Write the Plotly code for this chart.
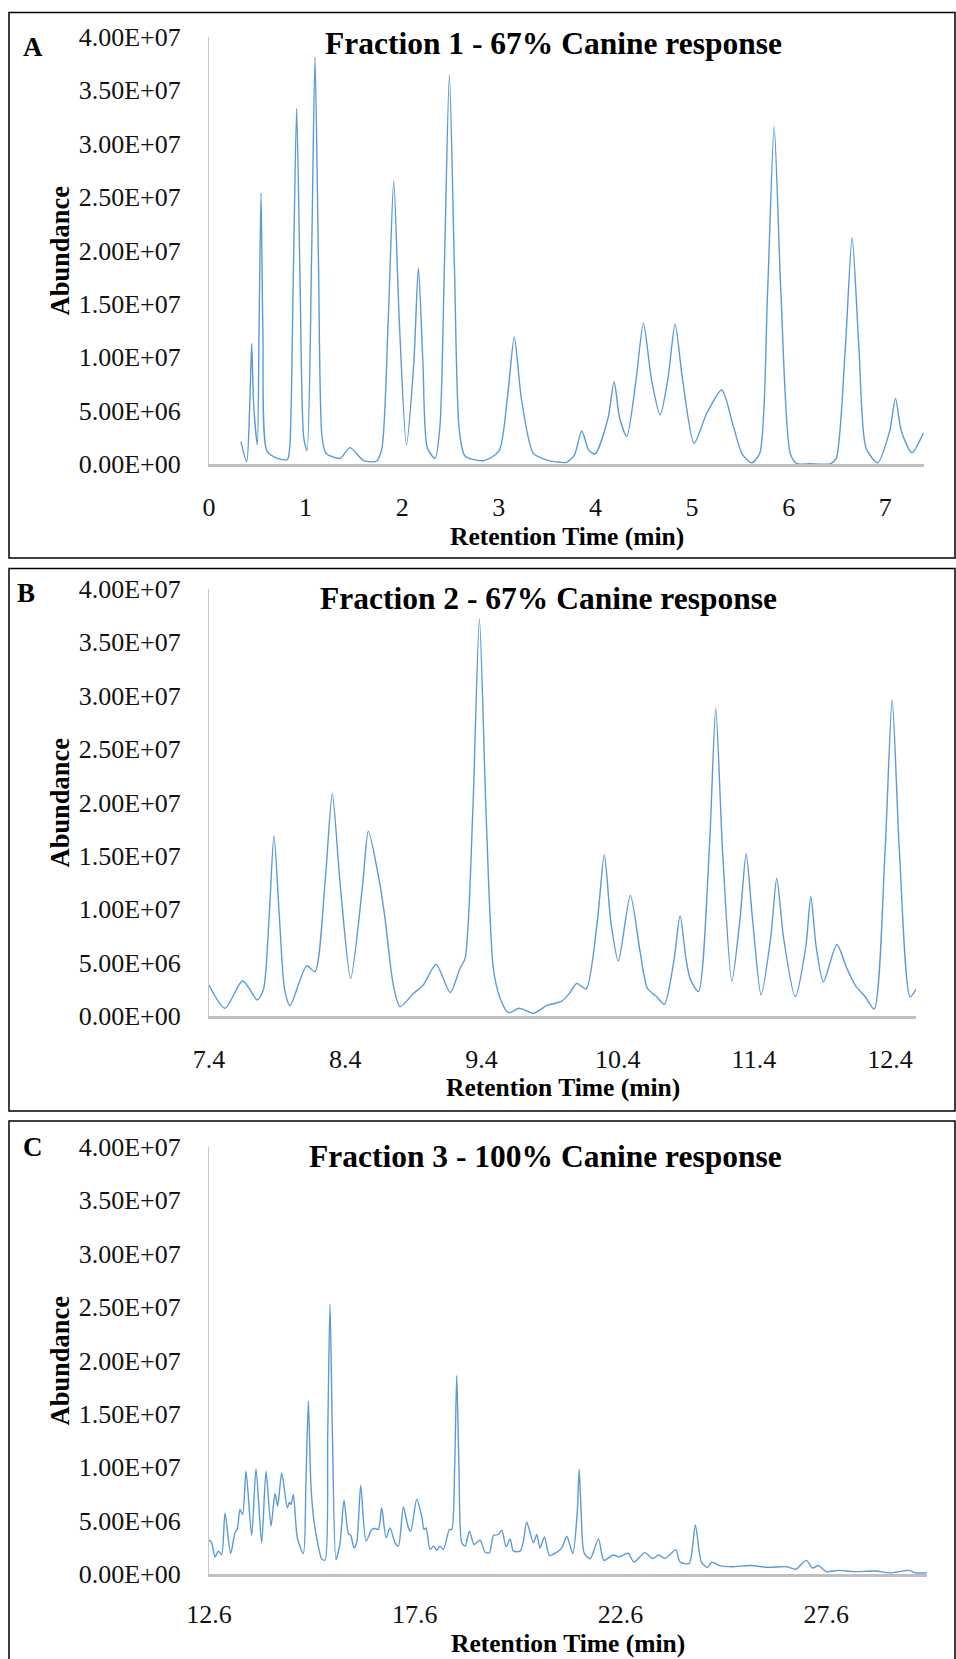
import plotly.graph_objects as go

# ---------------- data (abundance in millions) ----------------
A_time = [0.331, 0.39, 0.422, 0.442, 0.462, 0.50, 0.518, 0.538, 0.558, 0.60, 0.70, 0.81, 0.835,
          0.871, 0.907, 0.943, 0.98, 1.014, 1.061, 1.097, 1.133, 1.17, 1.211, 1.356, 1.46, 1.60,
          1.736, 1.79, 1.855, 1.912, 1.969, 2.043, 2.12, 2.167, 2.214, 2.26, 2.34, 2.39, 2.436,
          2.488, 2.54, 2.59, 2.65, 2.84, 3.0, 3.088, 3.16, 3.232, 3.357, 3.50, 3.634, 3.70, 3.78,
          3.858, 3.93, 3.996, 4.13, 4.193, 4.25, 4.324, 4.42, 4.496, 4.58, 4.669, 4.75, 4.824,
          4.90, 5.02, 5.152, 5.307, 5.428, 5.52, 5.618, 5.70, 5.78, 5.849, 5.92, 6.015, 6.08,
          6.22, 6.43, 6.49, 6.584, 6.656, 6.728, 6.80, 6.92, 7.045, 7.105, 7.165, 7.274, 7.394]
A_abund = [2.1, 0.2, 5.6, 11.3, 5.6, 1.8, 12.5, 25.4, 12.5, 1.2, 0.55, 0.4, 1.5,
           16.8, 33.3, 16.8, 2.5, 1.25, 19.0, 38.1, 19.0, 2.5, 1.0, 0.53, 1.53, 0.31,
           0.28, 1.5, 13.5, 26.5, 13.5, 1.84, 9.5, 18.4, 9.5, 1.5, 0.53, 3.5, 18.5,
           36.5, 18.5, 3.2, 0.75, 0.31, 1.2, 6.2, 11.9, 6.2, 1.0, 0.37, 0.16, 0.15, 0.8,
           3.09, 1.3, 0.94, 4.3, 7.7, 4.3, 2.6, 7.9, 13.2, 7.9, 4.6, 8.0, 13.1,
           8.0, 1.94, 4.75, 6.93, 3.5, 0.9, 0.12, 1.0, 15.8, 31.6, 15.8, 1.0, 0.05,
           0.02, 0.02, 0.5, 10.6, 21.2, 10.6, 1.5, 0.12, 3.1, 6.15, 3.1, 1.06, 2.93]

B_time = [7.40, 7.517, 7.647, 7.755, 7.80, 7.841, 7.877, 7.917, 7.955, 7.995, 8.117, 8.178,
          8.252, 8.305, 8.362, 8.44, 8.528, 8.57, 8.655, 8.692, 8.753, 8.802, 8.90, 8.973,
          9.067, 9.17, 9.243, 9.28, 9.336, 9.385, 9.434, 9.487, 9.537, 9.598, 9.678, 9.781,
          9.879, 9.99, 10.05, 10.10, 10.168, 10.25, 10.302, 10.35, 10.405, 10.493, 10.565,
          10.618, 10.687, 10.743, 10.814, 10.858, 10.902, 10.932, 10.993, 11.073, 11.12,
          11.169, 11.238, 11.299, 11.343, 11.389, 11.453, 11.524, 11.568, 11.617, 11.703,
          11.781, 11.818, 11.857, 11.91, 12.009, 12.082, 12.143, 12.217, 12.283, 12.363,
          12.415, 12.468, 12.547, 12.60]
B_abund = [2.9, 0.72, 3.3, 1.5, 2.5, 9.2, 16.9, 9.2, 2.5, 0.97, 4.7, 4.15,
           12.5, 20.8, 12.5, 3.53, 12.3, 17.3, 12.3, 9.15, 2.9, 0.87, 2.1, 2.9,
           4.84, 2.2, 4.47, 5.4, 19.0, 37.2, 19.0, 4.47, 1.66, 0.31, 0.72, 0.25,
           0.97, 1.4, 2.2, 3.06, 2.53, 8.8, 15.1, 8.8, 5.15, 11.3, 6.0,
           2.6, 1.8, 1.1, 5.3, 9.4, 5.3, 3.5, 2.28, 15.7, 28.8,
           15.7, 3.28, 9.2, 15.2, 9.2, 1.97, 7.4, 12.9, 7.4, 1.8,
           6.5, 11.2, 6.5, 3.2, 6.7, 4.47, 2.9, 1.8, 0.66, 15.5,
           29.6, 15.5, 1.8, 2.75]

C_time = [12.60, 12.665, 12.746, 12.827, 12.908, 12.989, 13.127, 13.232, 13.289, 13.354, 13.418,
          13.50, 13.637, 13.743, 13.88, 13.986, 14.107, 14.205, 14.269, 14.367, 14.504, 14.553,
          14.593, 14.65, 14.747, 14.893, 14.955, 15.015, 15.075, 15.136, 15.217, 15.339, 15.42,
          15.485, 15.54, 15.60, 15.687, 15.785, 15.882, 15.987, 16.044, 16.125, 16.19, 16.287,
          16.417, 16.555, 16.636, 16.717, 16.798, 16.903, 17.00, 17.122, 17.203, 17.324, 17.446,
          17.503, 17.649, 17.77, 17.827, 17.876, 17.973, 18.054, 18.135, 18.216, 18.297, 18.443,
          18.50, 18.57, 18.621, 18.675, 18.743, 18.824, 18.929, 19.043, 19.188, 19.31, 19.415,
          19.513, 19.634, 19.715, 19.821, 19.918, 19.999, 20.161, 20.242, 20.323, 20.485, 20.566,
          20.647, 20.752, 20.874, 21.052, 21.174, 21.296, 21.442, 21.55, 21.596, 21.645, 21.717,
          21.863, 22.065, 22.196, 22.418, 22.566, 22.787, 22.93, 23.19, 23.38, 23.53, 23.68,
          23.825, 23.945, 24.05, 24.27, 24.42, 24.567, 24.715, 24.82, 25.01, 25.31, 25.75, 26.2,
          26.64, 26.86, 27.115, 27.266, 27.41, 27.606, 27.9, 28.27, 28.79, 29.16, 29.61, 29.755,
          30.05]
C_abund = [3.17, 2.92, 1.58, 2.14, 1.83, 5.73, 1.92, 3.86, 4.23, 6.04, 5.57,
           9.63, 3.61, 9.85, 2.92, 9.63, 4.48, 7.54, 6.36, 9.47, 6.20, 6.73,
           6.51, 7.45, 3.39, 1.92, 8.5, 16.2, 8.5, 5.42, 3.39, 1.42, 1.30,
           13.0, 25.3, 13.0, 1.36, 2.92, 6.92, 3.79, 3.61, 2.45, 2.92, 8.29,
           3.08, 4.17, 4.26, 4.17, 6.20, 3.39, 4.32, 2.92, 2.61, 6.29, 4.32,
           4.01, 6.98, 5.42, 4.17, 4.32, 2.29, 2.61, 2.23, 2.61, 2.29, 4.17,
           4.17, 10.0, 18.6, 10.0, 2.92, 2.61, 4.01, 2.76, 3.17, 2.04, 1.98,
           3.61, 3.70, 4.10, 2.55, 3.29, 2.14, 2.14, 3.08, 4.86, 2.92, 3.70,
           2.45, 3.48, 1.73, 2.04, 2.45, 3.54, 1.92, 5.8, 9.79, 5.8, 1.98,
           1.42, 3.29, 1.28, 1.78, 1.61, 1.94, 1.11, 2.0, 1.45, 1.78, 1.45,
           1.9, 2.28, 1.11, 1.0, 4.59, 1.11, 0.62, 1.11, 0.79, 0.68, 0.79, 0.62,
           0.68, 0.45, 1.28, 0.56, 0.79, 0.22, 0.34, 0.22, 0.28, 0.11, 0.34, 0.11,
           0.11]

titles = ["Fraction 1 - 67% Canine response", "Fraction 2 - 67% Canine response",
          "Fraction 3 - 100% Canine response"]
panel_letters = ["A", "B", "C"]
y_tick_vals = [0, 5e6, 1e7, 1.5e7, 2e7, 2.5e7, 3e7, 3.5e7, 4e7]
y_tick_text = ["0.00E+00", "5.00E+06", "1.00E+07", "1.50E+07", "2.00E+07",
               "2.50E+07", "3.00E+07", "3.50E+07", "4.00E+07"]
A_xticks = [0, 1, 2, 3, 4, 5, 6, 7]
A_xtext = ["0", "1", "2", "3", "4", "5", "6", "7"]
B_xticks = [7.4, 8.4, 9.4, 10.4, 11.4, 12.4]
B_xtext = ["7.4", "8.4", "9.4", "10.4", "11.4", "12.4"]
C_xticks = [12.6, 17.6, 22.6, 27.6]
C_xtext = ["12.6", "17.6", "22.6", "27.6"]
x_ranges = [[0, 7.4], [7.4, 12.59], [12.6, 30.05]]

# ---------------- layout geometry (pixels) ----------------
W, H = 956, 1659
FONT = "Liberation Serif"
LINE = "#5B9BD5"


def px(x):
    return x / W


def py(y):
    return 1 - y / H


# plot areas: (left, right, top, bottom) in px
areas = [(209, 924, 37, 464), (209, 916, 589, 1016), (209, 927, 1147, 1574)]
boxes = [(9, 955, 12.5, 558), (9, 955, 568.5, 1111), (9, 955, 1121, 1675)]
title_pos = [(553, 44), (548, 598), (545, 1156)]
letter_pos = [(33, 47), (26, 593), (33, 1147)]
xtitle_pos = [536, 1087, 1643]
xtick_standoff = [18, 18, 15]

fig = go.Figure()
series = [(A_time, A_abund), (B_time, B_abund), (C_time, C_abund)]
xticks = [(A_xticks, A_xtext), (B_xticks, B_xtext), (C_xticks, C_xtext)]

layout = dict(width=W, height=H, margin=dict(l=0, r=0, t=0, b=0, pad=0), autosize=False,
              template="none",
              paper_bgcolor="white", plot_bgcolor="white", showlegend=False,
              font=dict(family=FONT, color="#111111"))
annotations = []
shapes = []
for i in range(3):
    xs, ys = series[i]
    sfx = "" if i == 0 else str(i + 1)
    fig.add_trace(go.Scatter(x=xs, y=[v * 1e6 for v in ys], mode="lines",
                             line=dict(color=LINE, width=1.4, shape="spline", smoothing=0.7),
                             xaxis="x" + sfx, yaxis="y" + sfx, hoverinfo="skip"))
    l, r, t, b = areas[i]
    layout["xaxis" + sfx] = dict(domain=[px(l), px(r)], range=x_ranges[i], anchor="y" + sfx,
                                 automargin=False,
                                 showgrid=False, zeroline=False, showline=True,
                                 linecolor="#bfbfbf", linewidth=2.5,
                                 tickvals=xticks[i][0], ticktext=xticks[i][1],
                                 ticks="", ticklabelstandoff=xtick_standoff[i],
                                 tickfont=dict(family=FONT, size=26, color="#111111"))
    layout["yaxis" + sfx] = dict(domain=[py(b), py(t)], range=[0, 4e7], anchor="x" + sfx,
                                 automargin=False,
                                 showgrid=False, zeroline=False, showline=True,
                                 linecolor="#c8c8c8", linewidth=1.2,
                                 tickvals=y_tick_vals, ticktext=y_tick_text,
                                 ticks="", ticklabelstandoff=22,
                                 tickfont=dict(family=FONT, size=26, color="#111111"))
    tx, ty = title_pos[i]
    annotations.append(dict(text="<b>%s</b>" % titles[i], x=px(tx), y=py(ty), xref="paper",
                            yref="paper", showarrow=False, xanchor="center", yanchor="middle",
                            font=dict(family=FONT, size=31.5, color="#000000")))
    lx, ly = letter_pos[i]
    annotations.append(dict(text="<b>%s</b>" % panel_letters[i], x=px(lx), y=py(ly),
                            xref="paper", yref="paper", showarrow=False, xanchor="center",
                            yanchor="middle", font=dict(family=FONT, size=27, color="#000000")))
    annotations.append(dict(text="<b>Retention Time (min)</b>", x=px((l + r) / 2),
                            y=py(xtitle_pos[i]),
                            xref="paper", yref="paper", showarrow=False, xanchor="center",
                            yanchor="middle", font=dict(family=FONT, size=25.5, color="#000000")))
    annotations.append(dict(text="<b>Abundance</b>", x=px(59), y=py((t + b) / 2),
                            xref="paper", yref="paper", showarrow=False, xanchor="center",
                            yanchor="middle", textangle=-90,
                            font=dict(family=FONT, size=26.5, color="#000000")))
    bx0, bx1, by0, by1 = boxes[i]
    shapes.append(dict(type="rect", xref="paper", yref="paper", x0=px(bx0), x1=px(bx1),
                       y0=py(by1), y1=py(by0), line=dict(color="#000000", width=1.5)))

layout["annotations"] = annotations
layout["shapes"] = shapes
fig.update_layout(**layout)
fig.write_html("out.html", config={"displayModeBar": False},
               post_script="document.body.style.margin='0px';"
                           "document.documentElement.style.overflow='hidden';")
